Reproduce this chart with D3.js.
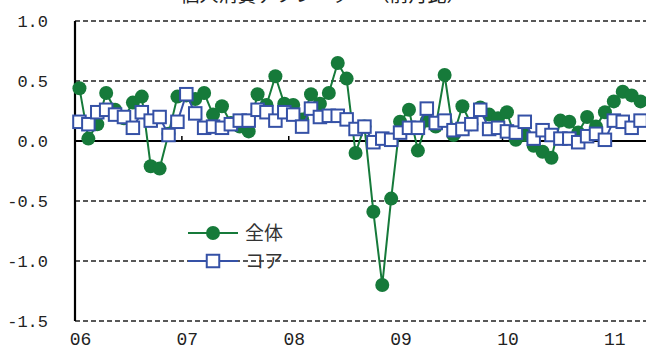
<!DOCTYPE html>
<html><head><meta charset="utf-8">
<script src="https://cdn.jsdelivr.net/npm/d3@7"></script>
<style>
html,body{margin:0;padding:0;background:#fff;}
svg{display:block;}
</style></head>
<body><svg id="c" width="646" height="349"></svg>
<script>
const title = "個人消費デフレーター（前月比）";
const seriesNames = ["全体", "コア"];
const startYear = 2006, nMonths = 64;
const months = d3.range(nMonths).map(i => {
  const y = startYear + Math.floor(i / 12), m = i % 12 + 1;
  return y + "-" + String(m).padStart(2, "0");
});
const yearLabels = ["06", "07", "08", "09", "10", "11"];
const yTicks = [1.0, 0.5, 0.0, -0.5, -1.0, -1.5];
const zentai = [0.44,0.02,0.14,0.40,0.26,0.19,0.32,0.37,-0.21,-0.23,0.06,0.37,
  0.38,0.35,0.40,0.22,0.29,0.15,0.12,0.08,0.39,0.30,0.54,0.31,
  0.30,0.18,0.39,0.31,0.40,0.65,0.52,-0.10,0.12,-0.59,-1.20,-0.48,
  0.16,0.26,-0.08,0.17,0.12,0.55,0.05,0.29,0.14,0.28,0.22,0.19,
  0.24,0.01,0.05,-0.04,-0.09,-0.14,0.17,0.16,0.07,0.20,0.12,0.24,
  0.33,0.41,0.38,0.33];
const core = [0.16,0.14,0.24,0.26,0.22,0.20,0.11,0.24,0.17,0.20,0.05,0.16,
  0.39,0.23,0.11,0.12,0.11,0.14,0.17,0.17,0.26,0.24,0.17,0.24,
  0.22,0.12,0.27,0.20,0.21,0.21,0.18,0.10,0.12,-0.01,0.02,0.01,
  0.07,0.11,0.11,0.27,0.15,0.17,0.09,0.10,0.14,0.26,0.10,0.11,
  0.08,0.07,0.16,0.02,0.09,0.05,0.02,0.02,-0.01,0.04,0.06,0.01,
  0.17,0.16,0.11,0.17];

const tickFont = "'Liberation Mono', 'DejaVu Sans Mono', monospace";
const jp = "'Noto Sans CJK JP', 'Noto Sans', sans-serif";
const green = "#167a3a", blue = "#3551a6";
const svg = d3.select("#c");
const x = d3.scaleBand().domain(months).range([75, 645]).paddingInner(0).paddingOuter(0);
const y = d3.scaleLinear().domain([-1.5, 1.0]).range([321, 21]);
const cx = d => x(d) + x.bandwidth() / 2;

// title (cut off at top, as in the reference)
svg.append("text").attr("x", 323).attr("y", 2)
  .attr("text-anchor", "middle").style("font-family", jp).style("font-size", "19px")
  .attr("fill", "#222").text(title);

// gridlines
svg.append("g").selectAll("line").data(yTicks.filter(v => v !== 0)).join("line")
  .attr("x1", 75).attr("x2", 646).attr("y1", d => y(d)).attr("y2", d => y(d))
  .attr("stroke", "#222").attr("stroke-width", 1.5).attr("stroke-dasharray", "5,3");

// y axis labels
const yAxis = d3.axisLeft(y).tickValues(yTicks).tickSize(0).tickPadding(0)
  .tickFormat(d => d3.format(".1f")(d).replace("−", "-"));
const gy = svg.append("g").attr("transform", "translate(48,0)").call(yAxis);
gy.select(".domain").remove();
gy.selectAll("text").attr("fill", "#222").attr("dy", "0.33em").attr("x", 0)
  .style("font-family", tickFont).style("font-size", "17px");
svg.append("line").attr("x1", 75).attr("x2", 75).attr("y1", y(1.0)).attr("y2", y(-1.5))
  .attr("stroke", "#000").attr("stroke-width", 2.2);

// zero line with year ticks
svg.append("line").attr("x1", 75).attr("x2", 646).attr("y1", y(0)).attr("y2", y(0))
  .attr("stroke", "#000").attr("stroke-width", 2.2);
const yearStarts = months.filter(m => m.endsWith("-01"));
svg.append("g").selectAll("line").data(yearStarts.slice(1)).join("line")
  .attr("x1", d => x(d)).attr("x2", d => x(d)).attr("y1", y(0)).attr("y2", y(0) - 5)
  .attr("stroke", "#000").attr("stroke-width", 1.5);

// x labels
const xAxis = d3.axisBottom(x).tickValues(yearStarts).tickSize(0).tickPadding(0)
  .tickFormat((d, i) => yearLabels[i]);
const gx = svg.append("g").attr("transform", "translate(1,332)").call(xAxis);
gx.select(".domain").remove();
gx.selectAll("text").attr("fill", "#222").attr("dy", "0.71em")
  .style("font-family", tickFont).style("font-size", "18px");

// 全体
const line = vals => d3.line().x((d, i) => cx(months[i])).y(d => y(d))(vals);
svg.append("path").attr("d", line(zentai)).attr("fill", "none")
  .attr("stroke", green).attr("stroke-width", 2);
svg.append("g").selectAll("circle").data(zentai).join("circle")
  .attr("cx", (d, i) => cx(months[i])).attr("cy", d => y(d)).attr("r", 7).attr("fill", green);

// コア
svg.append("path").attr("d", line(core)).attr("fill", "none")
  .attr("stroke", blue).attr("stroke-width", 2);
const s = 12.5;
svg.append("g").selectAll("rect").data(core).join("rect")
  .attr("x", (d, i) => cx(months[i]) - s / 2).attr("y", d => y(d) - s / 2)
  .attr("width", s).attr("height", s).attr("fill", "#fff")
  .attr("stroke", blue).attr("stroke-width", 2);

// legend
const lg = svg.append("g");
lg.append("line").attr("x1", 188).attr("x2", 238).attr("y1", 233).attr("y2", 233)
  .attr("stroke", green).attr("stroke-width", 2);
lg.append("circle").attr("cx", 213).attr("cy", 233).attr("r", 7).attr("fill", green);
lg.append("text").attr("x", 245).attr("y", 233).attr("dy", "0.36em")
  .style("font-family", jp).style("font-size", "19px").attr("fill", "#333").text(seriesNames[0]);
lg.append("line").attr("x1", 188).attr("x2", 238).attr("y1", y(-1.0)).attr("y2", y(-1.0))
  .attr("stroke", blue).attr("stroke-width", 2);
lg.append("rect").attr("x", 213 - s / 2).attr("y", y(-1.0) - s / 2).attr("width", s).attr("height", s)
  .attr("fill", "#fff").attr("stroke", blue).attr("stroke-width", 2);
lg.append("text").attr("x", 245).attr("y", y(-1.0)).attr("dy", "0.36em")
  .style("font-family", jp).style("font-size", "19px").attr("fill", "#333").text(seriesNames[1]);
</script></body></html>
